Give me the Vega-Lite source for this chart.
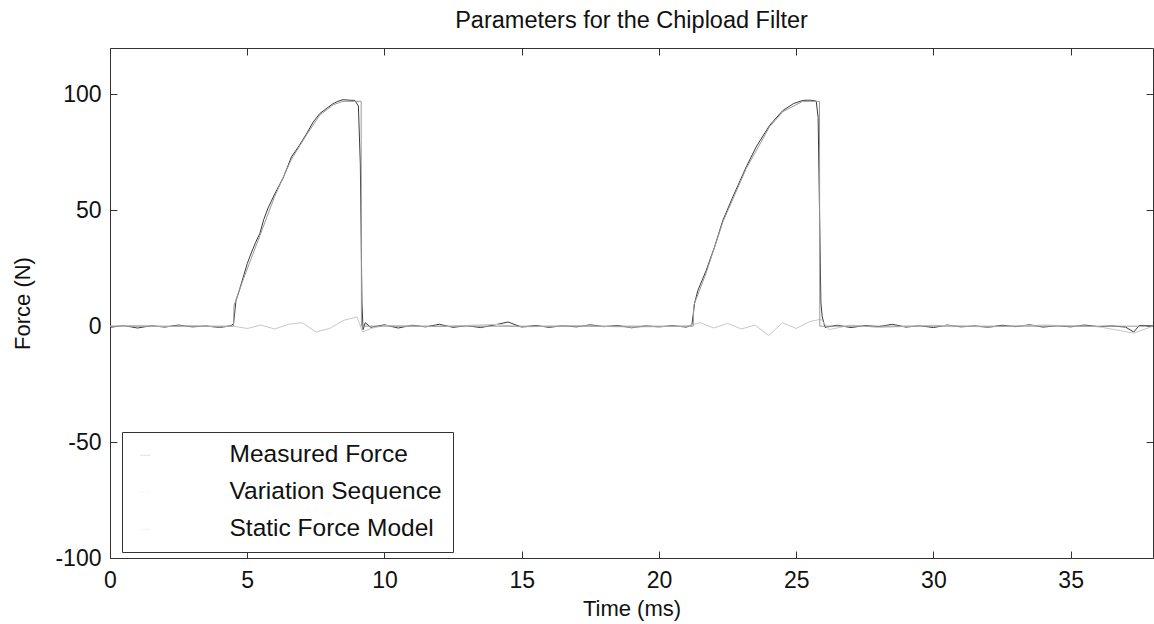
{
  "$schema": "https://vega.github.io/schema/vega-lite/v6.json",
  "autosize": "none",
  "width": 1043,
  "height": 510,
  "padding": {"left": 110, "top": 48, "right": 1, "bottom": 66},
  "background": "white",
  "title": {"text": "Parameters for the Chipload Filter", "fontSize": 23.5, "fontWeight": "normal", "font": "Liberation Sans", "color": "#111", "offset": 15},
  "config": {
    "view": {"stroke": null},
    "font": "Liberation Sans",
    "axis": {"grid": false, "domainColor": "#333", "tickColor": "#333", "labelColor": "#111", "titleColor": "#111", "labelFont": "Liberation Sans", "titleFont": "Liberation Sans", "labelFontSize": 23, "titleFontSize": 22, "titleFontWeight": "normal", "tickSize": -7, "labelExpr": "datum.value + ''"}
  },
  "datasets": {
    "d": [
      {"t":0,"F":-0.5,"s":"Measured Force"},{"t":0.5,"F":0.3,"s":"Measured Force"},{"t":1,"F":-0.8,"s":"Measured Force"},{"t":1.5,"F":0.2,"s":"Measured Force"},{"t":2,"F":-0.4,"s":"Measured Force"},{"t":2.5,"F":0.5,"s":"Measured Force"},{"t":3,"F":-0.3,"s":"Measured Force"},{"t":3.5,"F":0.1,"s":"Measured Force"},{"t":4,"F":-0.6,"s":"Measured Force"},{"t":4.4,"F":0.2,"s":"Measured Force"},{"t":4.5,"F":1,"s":"Measured Force"},{"t":4.59,"F":11,"s":"Measured Force"},{"t":4.7,"F":15,"s":"Measured Force"},{"t":4.85,"F":21,"s":"Measured Force"},{"t":5.0,"F":27,"s":"Measured Force"},{"t":5.16,"F":32,"s":"Measured Force"},{"t":5.3,"F":36,"s":"Measured Force"},{"t":5.46,"F":40,"s":"Measured Force"},{"t":5.6,"F":46,"s":"Measured Force"},{"t":5.76,"F":51,"s":"Measured Force"},{"t":6.0,"F":57,"s":"Measured Force"},{"t":6.31,"F":64,"s":"Measured Force"},{"t":6.61,"F":73,"s":"Measured Force"},{"t":6.9,"F":78,"s":"Measured Force"},{"t":7.16,"F":83,"s":"Measured Force"},{"t":7.4,"F":88,"s":"Measured Force"},{"t":7.64,"F":91.7,"s":"Measured Force"},{"t":7.9,"F":94,"s":"Measured Force"},{"t":8.13,"F":96,"s":"Measured Force"},{"t":8.3,"F":97,"s":"Measured Force"},{"t":8.49,"F":97.7,"s":"Measured Force"},{"t":8.7,"F":97.5,"s":"Measured Force"},{"t":8.92,"F":97.4,"s":"Measured Force"},{"t":9.05,"F":95,"s":"Measured Force"},{"t":9.12,"F":70,"s":"Measured Force"},{"t":9.15,"F":40,"s":"Measured Force"},{"t":9.18,"F":10,"s":"Measured Force"},{"t":9.22,"F":-1.5,"s":"Measured Force"},{"t":9.3,"F":1.5,"s":"Measured Force"},{"t":9.5,"F":-0.5,"s":"Measured Force"},{"t":10,"F":0.6,"s":"Measured Force"},{"t":10.5,"F":-0.8,"s":"Measured Force"},{"t":11,"F":0.4,"s":"Measured Force"},{"t":11.5,"F":-0.3,"s":"Measured Force"},{"t":12,"F":0.8,"s":"Measured Force"},{"t":12.5,"F":-0.5,"s":"Measured Force"},{"t":13,"F":0.2,"s":"Measured Force"},{"t":13.5,"F":-0.6,"s":"Measured Force"},{"t":14,"F":0.5,"s":"Measured Force"},{"t":14.5,"F":1.8,"s":"Measured Force"},{"t":15,"F":-0.4,"s":"Measured Force"},{"t":15.5,"F":0.3,"s":"Measured Force"},{"t":16,"F":-0.5,"s":"Measured Force"},{"t":16.5,"F":0.2,"s":"Measured Force"},{"t":17,"F":-0.3,"s":"Measured Force"},{"t":17.5,"F":0.6,"s":"Measured Force"},{"t":18,"F":-0.2,"s":"Measured Force"},{"t":18.5,"F":0.3,"s":"Measured Force"},{"t":19,"F":-0.7,"s":"Measured Force"},{"t":19.5,"F":0.1,"s":"Measured Force"},{"t":20,"F":-0.3,"s":"Measured Force"},{"t":20.5,"F":0.2,"s":"Measured Force"},{"t":21,"F":-0.4,"s":"Measured Force"},{"t":21.2,"F":0.5,"s":"Measured Force"},{"t":21.3,"F":10,"s":"Measured Force"},{"t":21.42,"F":15.5,"s":"Measured Force"},{"t":21.72,"F":24,"s":"Measured Force"},{"t":22.02,"F":34,"s":"Measured Force"},{"t":22.33,"F":45.7,"s":"Measured Force"},{"t":22.69,"F":55.7,"s":"Measured Force"},{"t":23.18,"F":68.7,"s":"Measured Force"},{"t":23.54,"F":77.3,"s":"Measured Force"},{"t":24.03,"F":86.6,"s":"Measured Force"},{"t":24.51,"F":93,"s":"Measured Force"},{"t":24.9,"F":96,"s":"Measured Force"},{"t":25.24,"F":97.4,"s":"Measured Force"},{"t":25.5,"F":97.5,"s":"Measured Force"},{"t":25.73,"F":97.1,"s":"Measured Force"},{"t":25.8,"F":90,"s":"Measured Force"},{"t":25.85,"F":50,"s":"Measured Force"},{"t":25.9,"F":10,"s":"Measured Force"},{"t":25.95,"F":4,"s":"Measured Force"},{"t":26.05,"F":-0.5,"s":"Measured Force"},{"t":26.5,"F":0.4,"s":"Measured Force"},{"t":27,"F":-0.6,"s":"Measured Force"},{"t":27.5,"F":0.3,"s":"Measured Force"},{"t":28,"F":-0.2,"s":"Measured Force"},{"t":28.5,"F":0.8,"s":"Measured Force"},{"t":29,"F":-0.4,"s":"Measured Force"},{"t":29.5,"F":0.2,"s":"Measured Force"},{"t":30,"F":-0.6,"s":"Measured Force"},{"t":30.5,"F":0.5,"s":"Measured Force"},{"t":31,"F":-0.3,"s":"Measured Force"},{"t":31.5,"F":0.1,"s":"Measured Force"},{"t":32,"F":-0.5,"s":"Measured Force"},{"t":32.5,"F":0.4,"s":"Measured Force"},{"t":33,"F":-0.2,"s":"Measured Force"},{"t":33.5,"F":0.6,"s":"Measured Force"},{"t":34,"F":-0.4,"s":"Measured Force"},{"t":34.5,"F":0.2,"s":"Measured Force"},{"t":35,"F":-0.3,"s":"Measured Force"},{"t":35.5,"F":0.5,"s":"Measured Force"},{"t":36,"F":-0.2,"s":"Measured Force"},{"t":36.5,"F":0.1,"s":"Measured Force"},{"t":37,"F":-0.4,"s":"Measured Force"},{"t":37.3,"F":-2.5,"s":"Measured Force"},{"t":37.5,"F":0.3,"s":"Measured Force"},{"t":38,"F":0.2,"s":"Measured Force"},
      {"t":0,"F":0,"s":"Variation Sequence"},{"t":1,"F":0.3,"s":"Variation Sequence"},{"t":2,"F":-0.2,"s":"Variation Sequence"},{"t":3,"F":0.2,"s":"Variation Sequence"},{"t":4,"F":-0.3,"s":"Variation Sequence"},{"t":4.5,"F":0,"s":"Variation Sequence"},{"t":5,"F":-1,"s":"Variation Sequence"},{"t":5.5,"F":0.5,"s":"Variation Sequence"},{"t":6,"F":-1.2,"s":"Variation Sequence"},{"t":6.5,"F":0.8,"s":"Variation Sequence"},{"t":7,"F":1.5,"s":"Variation Sequence"},{"t":7.5,"F":-2.5,"s":"Variation Sequence"},{"t":8,"F":-1,"s":"Variation Sequence"},{"t":8.5,"F":2.5,"s":"Variation Sequence"},{"t":9,"F":4,"s":"Variation Sequence"},{"t":9.2,"F":-2.5,"s":"Variation Sequence"},{"t":9.5,"F":-1,"s":"Variation Sequence"},{"t":10,"F":0.3,"s":"Variation Sequence"},{"t":12,"F":-0.2,"s":"Variation Sequence"},{"t":14,"F":0.8,"s":"Variation Sequence"},{"t":15,"F":-0.3,"s":"Variation Sequence"},{"t":17,"F":0.2,"s":"Variation Sequence"},{"t":19,"F":-0.4,"s":"Variation Sequence"},{"t":21,"F":0,"s":"Variation Sequence"},{"t":21.5,"F":1.5,"s":"Variation Sequence"},{"t":22,"F":-0.8,"s":"Variation Sequence"},{"t":22.5,"F":1.2,"s":"Variation Sequence"},{"t":23,"F":-1.2,"s":"Variation Sequence"},{"t":23.5,"F":0.5,"s":"Variation Sequence"},{"t":24,"F":-4,"s":"Variation Sequence"},{"t":24.5,"F":1.5,"s":"Variation Sequence"},{"t":25,"F":-1,"s":"Variation Sequence"},{"t":25.5,"F":2,"s":"Variation Sequence"},{"t":25.9,"F":3,"s":"Variation Sequence"},{"t":26.2,"F":-1.5,"s":"Variation Sequence"},{"t":27,"F":0.5,"s":"Variation Sequence"},{"t":28,"F":-0.6,"s":"Variation Sequence"},{"t":30,"F":0.4,"s":"Variation Sequence"},{"t":32,"F":-0.3,"s":"Variation Sequence"},{"t":34,"F":0.5,"s":"Variation Sequence"},{"t":36,"F":-0.2,"s":"Variation Sequence"},{"t":37.3,"F":-3,"s":"Variation Sequence"},{"t":38,"F":0,"s":"Variation Sequence"},
      {"t":0,"F":0,"s":"Static Force Model"},{"t":4.5,"F":0,"s":"Static Force Model"},{"t":4.52,"F":9,"s":"Static Force Model"},{"t":4.85,"F":20,"s":"Static Force Model"},{"t":5.46,"F":39,"s":"Static Force Model"},{"t":6.0,"F":56,"s":"Static Force Model"},{"t":6.61,"F":72,"s":"Static Force Model"},{"t":7.16,"F":82.5,"s":"Static Force Model"},{"t":7.64,"F":91,"s":"Static Force Model"},{"t":8.13,"F":95.5,"s":"Static Force Model"},{"t":8.49,"F":97,"s":"Static Force Model"},{"t":8.92,"F":97,"s":"Static Force Model"},{"t":9.15,"F":97,"s":"Static Force Model"},{"t":9.16,"F":0,"s":"Static Force Model"},{"t":21.25,"F":0,"s":"Static Force Model"},{"t":21.27,"F":9,"s":"Static Force Model"},{"t":21.72,"F":23,"s":"Static Force Model"},{"t":22.33,"F":45,"s":"Static Force Model"},{"t":23.18,"F":68,"s":"Static Force Model"},{"t":24.03,"F":86,"s":"Static Force Model"},{"t":24.51,"F":92.5,"s":"Static Force Model"},{"t":25.24,"F":97,"s":"Static Force Model"},{"t":25.85,"F":97,"s":"Static Force Model"},{"t":25.86,"F":0,"s":"Static Force Model"},{"t":38,"F":0,"s":"Static Force Model"}
    ]
  },
  "data": {"name": "d"},
  "layer": [
    {
      "mark": {"type": "line", "strokeWidth": 1, "clip": true},
      "encoding": {
        "x": {"field": "t", "type": "quantitative", "scale": {"domain": [0, 38], "nice": false, "zero": false}, "axis": {"title": "Time (ms)", "orient": "bottom", "values": [0,5,10,15,20,25,30,35], "titleY": 50, "titleBaseline": "middle", "labelPadding": 18, "labelFlush": false}},
        "y": {"field": "F", "type": "quantitative", "scale": {"domain": [-100, 120], "nice": false}, "axis": {"title": "Force (N)", "orient": "left", "values": [-100,-50,0,50,100], "titleX": -88, "titleBaseline": "middle", "labelPadding": 16, "labelFlush": false}},
        "color": {"field": "s", "type": "nominal", "scale": {"domain": ["Measured Force", "Variation Sequence", "Static Force Model"], "range": ["#3a3a3a", "#c8c8c8", "#9a9a9a"]},
          "legend": {"title": null, "orient": "none", "legendX": 12, "legendY": 384, "direction": "vertical", "symbolType": "stroke", "symbolSize": 100, "symbolStrokeWidth": 1, "symbolOpacity": 0.15, "labelOffset": 72, "labelFontSize": 24.5, "labelFont": "Liberation Sans", "labelColor": "#111", "rowPadding": 12, "padding": 11, "strokeColor": "#333", "fillColor": "white", "labelLimit": 400}},
        "order": {"field": "t", "type": "quantitative"}
      }
    },
    {
      "mark": {"type": "rule", "opacity": 0},
      "data": {"values": [{"t": 0, "F": 0}]},
      "encoding": {
        "x": {"field": "t", "type": "quantitative", "axis": {"orient": "top", "labels": false, "title": null, "values": [0,5,10,15,20,25,30,35]}},
        "y": {"field": "F", "type": "quantitative", "axis": {"orient": "right", "labels": false, "title": null, "values": [-100,-50,0,50,100]}}
      }
    }
  ],
  "resolve": {"axis": {"x": "independent", "y": "independent"}}
}
